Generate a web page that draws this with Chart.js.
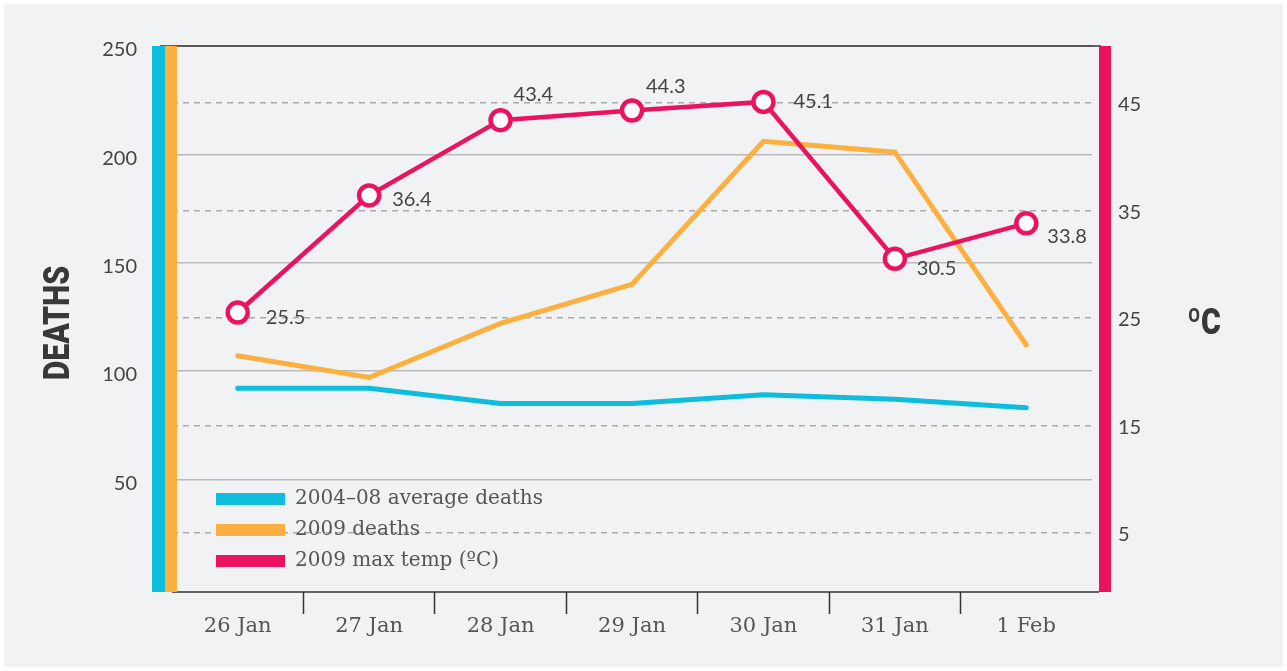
<!DOCTYPE html>
<html>
<head>
<meta charset="utf-8">
<script src="https://cdn.jsdelivr.net/npm/chart.js@4.4.1/dist/chart.umd.min.js"></script>
<style>
  html, body { margin: 0; padding: 0; background: #fff; }
  #wrap { position: absolute; left: 4px; top: 4px; width: 1279px; height: 663px; background: #f1f2f4; }
</style>
</head>
<body>
<div id="wrap"><canvas id="heatChart" width="1279" height="663"></canvas></div>
<script>
// data
const days = ['26 Jan', '27 Jan', '28 Jan', '29 Jan', '30 Jan', '31 Jan', '1 Feb'];
const avgDeaths = [92, 92, 85, 85, 89, 87, 83];
const deaths2009 = [107, 97, 122, 140, 206, 201, 112];
const maxTemp = [25.5, 36.4, 43.4, 44.3, 45.1, 30.5, 33.8];
const deathTicks = [50, 100, 150, 200, 250];
const tempTicks = [5, 15, 25, 35, 45];

const CYAN = '#0ebddb';
const ORANGE = '#fcb040';
const PINK = '#eb135f';

// where each temperature label sits relative to its point
const labelOffsets = [[28, 5], [23, 4], [13, -26], [14, -24], [30, 0], [22, 10], [21, 13]];

// drop the label padding the scales ask for, layout padding decides instead
function noPad(s) {
    s.paddingTop = 0;
    s.paddingBottom = 0;
}

function condensedText(ctx, text, x, y, angle) {
    ctx.save();
    ctx.translate(x, y);
    ctx.rotate(angle);
    ctx.scale(0.84, 1);
    ctx.fillStyle = '#383838';
    ctx.font = '900 36px Roboto';
    ctx.textAlign = 'center';
    ctx.textBaseline = 'middle';
    ctx.fillText(text, 0, 0);
    ctx.restore();
}

const decor = {
    id: 'decor',
    beforeDatasetsDraw(chart) {
        const { ctx, chartArea: a } = chart;
        const h = a.bottom - a.top;
        ctx.save();
        ctx.strokeStyle = '#333';
        ctx.lineWidth = 1.5;
        ctx.beginPath();
        ctx.moveTo(a.left - 12, a.top);
        ctx.lineTo(a.right + 9, a.top);
        ctx.moveTo(a.left, a.bottom);
        ctx.lineTo(a.right + 7, a.bottom);
        ctx.stroke();
        // coloured axis bars
        ctx.fillStyle = CYAN;
        ctx.fillRect(a.left - 20, a.top, 13, h);
        ctx.fillStyle = ORANGE;
        ctx.fillRect(a.left - 7, a.top, 12, h);
        ctx.fillStyle = PINK;
        ctx.fillRect(a.right + 7, a.top, 12, h);
        ctx.restore();
    },
    afterDraw(chart) {
        const { ctx, chartArea: a } = chart;
        const mid = (a.top + a.bottom) / 2;
        ctx.save();

        // temperature labels
        const meta = chart.getDatasetMeta(2);
        ctx.fillStyle = '#444';
        ctx.font = '20px Lato';
        ctx.textAlign = 'left';
        ctx.textBaseline = 'middle';
        meta.data.forEach((pt, i) => {
            const off = labelOffsets[i];
            ctx.fillText(maxTemp[i].toFixed(1), pt.x + off[0], pt.y + off[1]);
        });

        // legend inside the plot
        chart.data.datasets.forEach((ds, i) => {
            const y = a.bottom - 93 + 31 * i;
            ctx.fillStyle = ds.borderColor;
            ctx.fillRect(a.left + 44, y - 6, 69, 12);
            ctx.fillStyle = '#555';
            ctx.font = '20px "DejaVu Serif"';
            ctx.fillText(ds.label, a.left + 123, y);
        });
        ctx.restore();

        // axis titles
        condensedText(ctx, 'DEATHS', 56, mid + 4, -Math.PI / 2);
        condensedText(ctx, 'ºC', a.right + 112, mid + 6, 0);
    }
};

const ctx = document.getElementById('heatChart').getContext('2d');
new Chart(ctx, {
    type: 'line',
    data: {
        labels: days,
        datasets: [{
            label: '2004–08 average deaths',
            data: avgDeaths,
            yAxisID: 'y',
            borderColor: CYAN,
            borderWidth: 5,
            borderCapStyle: 'round',
            pointRadius: 0,
            tension: 0,
            order: 3
        }, {
            label: '2009 deaths',
            data: deaths2009,
            yAxisID: 'y',
            borderColor: ORANGE,
            borderWidth: 5,
            borderCapStyle: 'round',
            pointRadius: 0,
            tension: 0,
            order: 2
        }, {
            label: '2009 max temp (ºC)',
            data: maxTemp,
            yAxisID: 'y1',
            borderColor: PINK,
            borderWidth: 4.5,
            pointRadius: 10,
            pointBorderWidth: 4.5,
            pointBackgroundColor: '#fff',
            pointBorderColor: PINK,
            tension: 0,
            order: 1
        }]
    },
    options: {
        responsive: false,
        animation: false,
        layout: { padding: { top: 42, left: 0, right: 0, bottom: 0 } },
        plugins: {
            legend: { display: false },
            tooltip: { enabled: false }
        },
        scales: {
            x: {
                offset: true,
                grid: {
                    offset: true,
                    drawOnChartArea: false,
                    tickLength: 22,
                    tickWidth: 1.5,
                    tickColor: c => (c.index === undefined || c.index === 0) ? 'rgba(0,0,0,0)' : '#333'
                },
                border: { display: false },
                ticks: {
                    color: '#555',
                    font: { family: '"DejaVu Serif"', size: 21 },
                    padding: 0,
                    maxRotation: 0,
                    autoSkip: false
                },
                afterFit: s => { s.height = 75; }
            },
            y: {
                position: 'left',
                min: -2,
                max: 250,
                afterBuildTicks: s => { s.ticks = deathTicks.map(v => ({ value: v })); },
                afterFit: s => { s.width = 168; noPad(s); },
                grid: { color: '#b9b9b9', lineWidth: 1.5, drawTicks: false },
                border: { display: false },
                ticks: { color: '#444', font: { family: 'Lato', size: 20 }, padding: 35, labelOffset: 4 }
            },
            y1: {
                position: 'right',
                min: -0.5,
                max: 50.3,
                afterBuildTicks: s => { s.ticks = tempTicks.map(v => ({ value: v })); },
                afterFit: s => { s.width = 191; noPad(s); },
                grid: { color: '#aaa', lineWidth: 1.5, drawTicks: false },
                border: { display: false, dash: [6, 5] },
                ticks: { color: '#444', font: { family: 'Lato', size: 20 }, padding: 26, labelOffset: 2 }
            }
        }
    },
    plugins: [decor]
});
</script>
</body>
</html>
